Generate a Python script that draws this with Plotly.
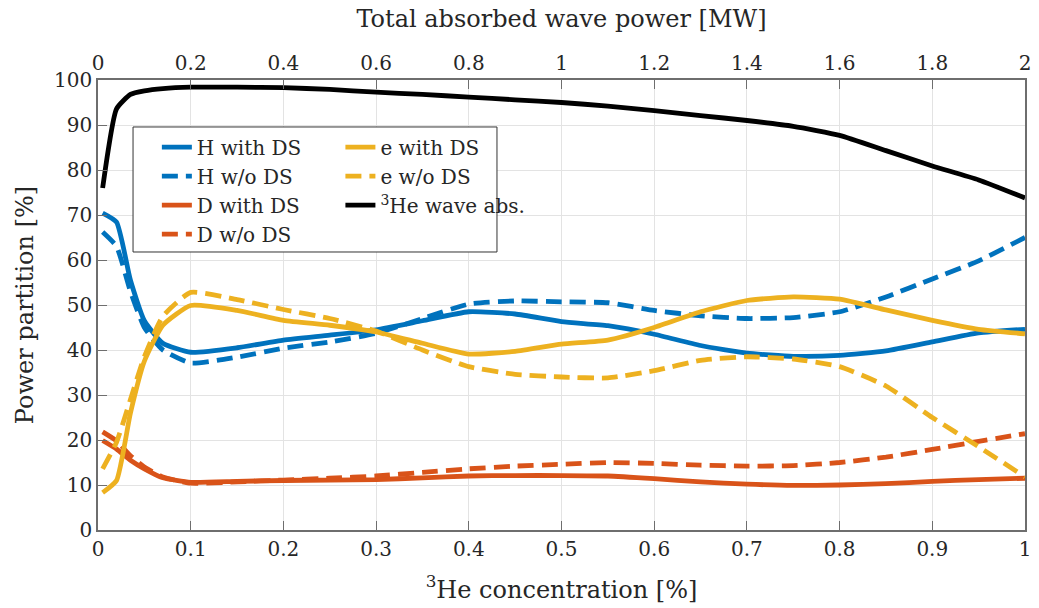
import plotly.graph_objects as go

he3_conc = [0.005, 0.02, 0.035, 0.05, 0.07, 0.1, 0.15, 0.2, 0.25, 0.3, 0.35, 0.4,
            0.45, 0.5, 0.55, 0.6, 0.65, 0.7, 0.75, 0.8, 0.85, 0.9, 0.95, 1.0]

h_with_ds = [70.4, 68.4, 55.5, 46.5, 41.5, 39.5, 40.5, 42.2, 43.3, 44.5, 46.5, 48.5,
             48.0, 46.3, 45.4, 43.5, 41.0, 39.3, 38.6, 38.8, 39.8, 41.8, 43.8, 44.6]
h_wo_ds = [66.2, 63.0, 53.0, 45.0, 40.0, 37.1, 38.4, 40.4, 41.8, 43.7, 47.0, 50.2,
           50.9, 50.7, 50.5, 48.8, 47.6, 47.0, 47.2, 48.5, 51.8, 55.8, 59.8, 65.0]
d_with_ds = [19.9, 18.0, 15.5, 13.6, 11.6, 10.6, 10.8, 11.0, 11.1, 11.2, 11.6, 12.0,
             12.1, 12.1, 12.0, 11.4, 10.7, 10.2, 9.9, 10.0, 10.3, 10.8, 11.2, 11.5]
d_wo_ds = [21.8, 19.8, 16.5, 14.0, 11.8, 10.4, 10.7, 11.1, 11.5, 12.0, 12.8, 13.6,
           14.2, 14.6, 15.0, 14.8, 14.4, 14.2, 14.3, 15.0, 16.2, 17.9, 19.7, 21.4]
e_with_ds = [8.3, 11.0, 26.0, 37.5, 45.5, 49.9, 48.8, 46.6, 45.5, 44.0, 41.5, 39.1,
             39.7, 41.3, 42.2, 45.0, 48.5, 51.0, 51.8, 51.3, 48.9, 46.6, 44.6, 43.6]
e_wo_ds = [13.6, 19.5, 29.0, 38.5, 47.5, 52.8, 51.2, 49.0, 47.0, 44.2, 40.0, 36.3,
           34.6, 34.0, 33.8, 35.4, 37.7, 38.5, 38.0, 36.3, 32.0, 25.0, 18.5, 11.8]
he3_wave_abs = [76.0, 93.6, 96.8, 97.6, 98.1, 98.4, 98.4, 98.3, 97.9, 97.3, 96.8, 96.2,
                95.6, 95.0, 94.2, 93.2, 92.1, 91.0, 89.7, 87.7, 84.3, 80.9, 77.8, 73.8]

x_ticks = [0, 0.1, 0.2, 0.3, 0.4, 0.5, 0.6, 0.7, 0.8, 0.9, 1]
x_tick_labels = ["0", "0.1", "0.2", "0.3", "0.4", "0.5", "0.6", "0.7", "0.8", "0.9", "1"]
top_ticks = [0, 0.2, 0.4, 0.6, 0.8, 1.0, 1.2, 1.4, 1.6, 1.8, 2.0]
top_tick_labels = ["0", "0.2", "0.4", "0.6", "0.8", "1", "1.2", "1.4", "1.6", "1.8", "2"]
y_ticks = list(range(0, 101, 10))

BLUE = "#0072BD"
ORANGE = "#D95319"
YELLOW = "#EDB120"
FONT = "DejaVu Serif"
LW = 4.8

series = [
    ("H with DS", h_with_ds, BLUE, "solid", "legend", "g1"),
    ("H w/o DS", h_wo_ds, BLUE, "16px,8px", "legend", "g2"),
    ("D with DS", d_with_ds, ORANGE, "solid", "legend", "g3"),
    ("D w/o DS", d_wo_ds, ORANGE, "16px,8px", "legend", "g4"),
    ("e with DS", e_with_ds, YELLOW, "solid", "legend2", "g5"),
    ("e w/o DS", e_wo_ds, YELLOW, "16px,8px", "legend2", "g6"),
    ("<sup>3</sup>He wave abs.", he3_wave_abs, "black", "solid", "legend2", "g7"),
]

fig = go.Figure()
for name, ys, color, dash, leg, grp in series:
    fig.add_trace(go.Scatter(
        x=he3_conc, y=ys, mode="lines", name=name,
        line=dict(color=color, width=LW, dash=dash, shape="spline", smoothing=0.5),
        legend=leg, legendgroup=grp,
    ))

axis_color = "#6e6e6e"
grid_color = "#e3e3e3"
tickfont = dict(family=FONT, size=20, color="#262626")
titlefont = dict(family=FONT, size=24, color="#262626")

fig.update_layout(
    width=1039, height=608,
    margin=dict(l=98, r=14, t=80, b=78),
    paper_bgcolor="white", plot_bgcolor="white",
    font=dict(family=FONT, size=20, color="#262626"),
    xaxis=dict(
        range=[0, 1], tickvals=x_ticks, ticktext=x_tick_labels, automargin=False,
        showgrid=True, gridcolor=grid_color, gridwidth=1,
        showline=True, linecolor=axis_color, linewidth=1.5, mirror=False,
        ticks="inside", ticklen=9, tickcolor=axis_color, tickwidth=1,
        tickfont=tickfont, zeroline=False,
        title=dict(text="<sup>3</sup>He concentration [%]", font=titlefont, standoff=21),
    ),
    xaxis2=dict(
        range=[0, 2], tickvals=top_ticks, ticktext=top_tick_labels, automargin=False,
        overlaying="x", side="top", anchor="y",
        showgrid=False, showline=True, linecolor=axis_color, linewidth=1.5,
        ticks="inside", ticklen=9, tickcolor=axis_color, tickwidth=1,
        tickfont=tickfont, zeroline=False,
        title=dict(text="Total absorbed wave power [MW]", font=titlefont, standoff=17),
    ),
    yaxis=dict(
        range=[0, 100], tickvals=y_ticks, automargin=False,
        showgrid=True, gridcolor=grid_color, gridwidth=1,
        showline=True, linecolor=axis_color, linewidth=1.5, mirror=True,
        ticks="inside", ticklen=9, tickcolor=axis_color, tickwidth=1,
        tickfont=tickfont, zeroline=False,
        title=dict(text="Power partition [%]", font=titlefont, standoff=14),
    ),
    legend=dict(
        x=0.0635, y=0.894, xanchor="left", yanchor="top",
        bgcolor="rgba(0,0,0,0)", borderwidth=0,
        font=dict(family=FONT, size=20, color="#262626"),
        tracegroupgap=0, traceorder="normal",
    ),
    legend2=dict(
        x=0.2615, y=0.894, xanchor="left", yanchor="top",
        bgcolor="rgba(0,0,0,0)", borderwidth=0,
        font=dict(family=FONT, size=20, color="#262626"),
        tracegroupgap=0, traceorder="normal",
    ),
    shapes=[dict(
        type="rect", xref="paper", yref="paper",
        x0=0.0378, x1=0.4304, y0=0.6178, y1=0.8956,
        fillcolor="white", line=dict(color="#333333", width=1), layer="above",
    )],
    showlegend=True,
)

# invisible helper trace so the top (power) axis is laid out
fig.add_trace(go.Scatter(x=[0, 2], y=[None, None], xaxis="x2", yaxis="y",
                         mode="lines", showlegend=False, hoverinfo="skip"))

fig.write_html("out.html")
